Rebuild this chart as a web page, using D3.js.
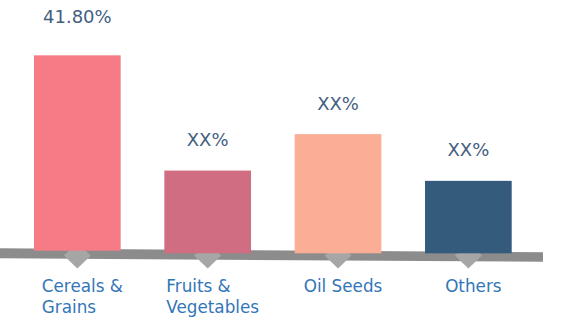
<!DOCTYPE html>
<html>
<head>
<meta charset="utf-8">
<script src="https://cdn.jsdelivr.net/npm/d3@7"></script>
<style>
  html, body { margin: 0; padding: 0; background: #ffffff; }
  svg { display: block; }
</style>
</head>
<body>
<svg id="chart" width="563" height="329"></svg>
<script>
// Crop share by category
const categories = [["Cereals &", "Grains"], ["Fruits &", "Vegetables"], ["Oil Seeds"], ["Others"]];
const values = [41.8, 17.7, 25.5, 15.5];
const valueLabels = ["41.80%", "XX%", "XX%", "XX%"];
const colors = ["#f67b87", "#d06d83", "#f9ae95", "#345a7c"];

const svg = d3.select("#chart");

// Baseline strip is slightly tilted: top edge from (0, 248.3) to (543, 252.3)
const axisX0 = 0, axisX1 = 543;
const axisThick = 10;
const axisTop = d3.scaleLinear().domain([axisX0, axisX1]).range([248.3, 252.3]);

const x = d3.scaleBand()
  .domain(d3.range(categories.length))
  .range([34, 511.7])
  .paddingInner(0.335)
  .paddingOuter(0);

const h = d3.scaleLinear().domain([0, 50]).range([0, 233.7]);

// foot of each bar, tucked into the strip
const barFoot = d3.scaleLinear().domain([77, 200, 560]).range([250.7, 253.3, 253.3]).clamp(true);
const cxOf = i => x(i) + x.bandwidth() / 2;

// axis strip
svg.append("polygon")
  .attr("points", [
    [axisX0, axisTop(axisX0)], [axisX1, axisTop(axisX1)],
    [axisX1, axisTop(axisX1) + axisThick - 0.6], [axisX0, axisTop(axisX0) + axisThick]
  ].map(p => p.join(",")).join(" "))
  .attr("fill", "#8c8c8c");

// diamond markers under each bar
svg.selectAll("path.marker")
  .data(values)
  .join("path")
  .attr("class", "marker")
  .attr("fill", "#a6a6a6")
  .attr("d", (d, i) => {
    const cx = cxOf(i), cy = 255.5;
    const hw = 13.5, hh = 13;
    return `M${cx},${cy - hh}L${cx + hw},${cy}L${cx},${cy + hh}L${cx - hw},${cy}Z`;
  });

// bars
svg.selectAll("rect.bar")
  .data(values)
  .join("rect")
  .attr("class", "bar")
  .attr("x", (d, i) => x(i))
  .attr("width", x.bandwidth())
  .attr("y", (d, i) => barFoot(cxOf(i)) - h(d))
  .attr("height", d => h(d))
  .attr("fill", (d, i) => colors[i]);

// value labels
const maxV = d3.max(values);
svg.selectAll("text.value")
  .data(values)
  .join("text")
  .attr("class", "value")
  .attr("x", (d, i) => cxOf(i))
  .attr("y", (d, i) => barFoot(cxOf(i)) - h(d) - (d === maxV ? 32.6 : 24.5))
  .attr("text-anchor", "middle")
  .attr("font-family", "'DejaVu Sans', sans-serif")
  .attr("font-size", 18)
  .attr("fill", "#44607f")
  .text((d, i) => valueLabels[i]);

// category labels: left-aligned lines, block centred a little right of the bar
categories.forEach((lines, i) => {
  const cx = cxOf(i) + 5;
  const g = svg.append("g");
  lines.forEach((ln, j) => {
    g.append("text")
      .attr("x", 0)
      .attr("y", 291.7 + j * 21)
      .attr("font-family", "'DejaVu Sans', sans-serif")
      .attr("font-size", 16.8)
      .attr("fill", "#3276b8")
      .text(ln);
  });
  const bb = g.node().getBBox();
  g.attr("transform", `translate(${cx - bb.width / 2},0)`);
});
</script>
</body>
</html>
